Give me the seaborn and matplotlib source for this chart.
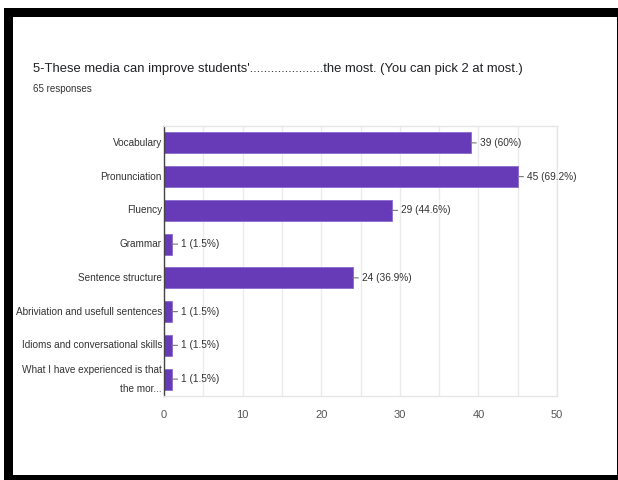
import matplotlib
matplotlib.use("Agg")
import matplotlib.pyplot as plt
from matplotlib.patches import Rectangle
from matplotlib.ticker import MultipleLocator
import seaborn as sns
import pandas as pd

# Survey results
categories = [
    "Vocabulary",
    "Pronunciation",
    "Fluency",
    "Grammar",
    "Sentence structure",
    "Abriviation and usefull sentences",
    "Idioms and conversational skills",
    "What I have experienced is that\nthe mor...",
]
counts = [39, 45, 29, 1, 24, 1, 1, 1]
total_responses = 65
x_ticks = [0, 10, 20, 30, 40, 50]

title = ("5-These media can improve students'....................."
         "the most. (You can pick 2 at most.)")
subtitle = f"{total_responses} responses"

sns.set_theme(style="white")
FONTS = ["Liberation Sans", "DejaVu Sans"]
plt.rcParams["font.family"] = FONTS

W, H = 618, 480
fig = plt.figure(figsize=(W / 100, H / 100), dpi=100)
fig.patch.set_facecolor("white")

# black frame around the card
fig.patches.append(Rectangle((4 / W, 0), 614 / W, 472 / H, transform=fig.transFigure,
                             facecolor="black", edgecolor="none", zorder=-10))
fig.patches.append(Rectangle((13 / W, 5.5 / H), 603.5 / W, 458 / H, transform=fig.transFigure,
                             facecolor="white", edgecolor="none", zorder=-9))

ax = fig.add_axes([164 / W, 1 - 396 / H, (557 - 164) / W, (396 - 126) / H])

df = pd.DataFrame({"option": categories, "count": counts})
sns.barplot(data=df, x="count", y="option", orient="h", color="#673ab7",
            saturation=1, width=0.62, edgecolor="#8a6bd0", linewidth=0.6, ax=ax)

# value labels with leader lines
for i, v in enumerate(counts):
    pct = f"{v / total_responses * 100:.1f}".rstrip("0").rstrip(".")
    ax.annotate(f"{v} ({pct}%)", xy=(v, i), xytext=(9, 0), textcoords="offset pixels",
                va="center", ha="left", fontsize=7.3, color="#333333",
                annotation_clip=False,
                arrowprops=dict(arrowstyle="-", color="#777777", lw=0.8,
                                shrinkA=0, shrinkB=0))

ax.set_xlim(0, 50)
ax.set_xticks(x_ticks)
ax.xaxis.set_minor_locator(MultipleLocator(5))
ax.grid(axis="x", which="both", color="#ebebeb", linewidth=1)
ax.set_axisbelow(True)
ax.set_xlabel("")
ax.set_ylabel("")
ax.tick_params(axis="x", which="both", length=0, pad=10, labelsize=8, labelcolor="#555555")
ax.tick_params(axis="y", length=0, pad=1.5, labelsize=7.2, labelcolor="#333333")
for lbl in ax.get_yticklabels():
    lbl.set_linespacing(2.1)
    lbl.set_verticalalignment("center")

for side in ["top", "right", "bottom"]:
    ax.spines[side].set_color("#e6e6e6")
    ax.spines[side].set_linewidth(1)
ax.spines["left"].set_color("#444444")
ax.spines["left"].set_linewidth(1)

fig.text(33 / W, 1 - 72 / H, title, fontsize=9.4, color="#202124", va="baseline", ha="left")
fig.text(33 / W, 1 - 92 / H, subtitle, fontsize=7, color="#333333", va="baseline", ha="left")

fig.savefig("out.png", dpi=100)
